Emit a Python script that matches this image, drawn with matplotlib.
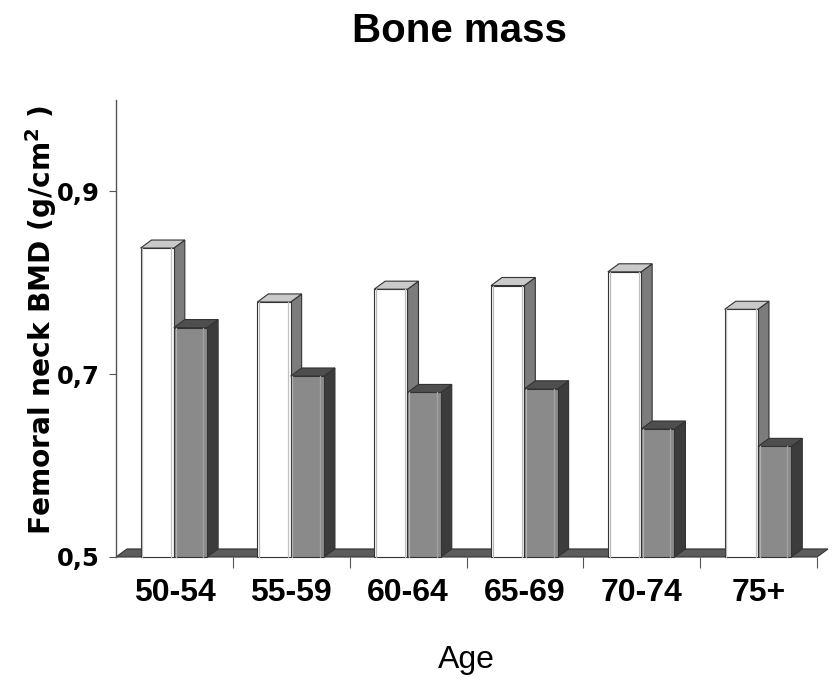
import matplotlib
matplotlib.use('Agg')
import matplotlib.pyplot as plt
from matplotlib.patches import Polygon

plt.rcParams['font.family'] = ['Liberation Sans', 'DejaVu Sans']
plt.rcParams['mathtext.fontset'] = 'dejavusans'

ages = ['50-54', '55-59', '60-64', '65-69', '70-74', '75+']
bmd_light = [0.838, 0.779, 0.793, 0.797, 0.812, 0.771]
bmd_dark = [0.751, 0.698, 0.680, 0.684, 0.640, 0.621]

base = 0.5
bar_w = 0.285
dx, dy = 0.094, 0.0088   # 3d depth offset in data units

fig = plt.figure(figsize=(8.35, 6.78), dpi=100)
ax = fig.add_axes([116 / 835, 121 / 678, 701 / 835, 457 / 678])
ax.set_xlim(0, 6)
ax.set_ylim(0.5, 1.0)

edge = '#333333'


def poly(pts, fc, z):
    p = Polygon(pts, closed=True, facecolor=fc, edgecolor=edge, linewidth=0.8,
                zorder=z, clip_on=False)
    ax.add_patch(p)


def bar3d(x0, v, front, top, side, z):
    x1 = x0 + bar_w
    poly([(x1, base), (x1 + dx, base + dy), (x1 + dx, v + dy), (x1, v)], side, z)
    poly([(x0, base), (x1, base), (x1, v), (x0, v)], front, z)
    poly([(x0, v), (x1, v), (x1 + dx, v + dy), (x0 + dx, v + dy)], top, z)
    # bevel lines on the front face
    if front == 'white':
        ax.plot([x0 + 0.015, x0 + 0.015], [base, v], color='#b8b8b8', lw=0.9, zorder=z, clip_on=False)
        ax.plot([x1 - 0.02, x1 - 0.02], [base, v], color='#c0c0c0', lw=0.9, zorder=z, clip_on=False)
    else:
        ax.plot([x0 + 0.015, x0 + 0.015], [base, v], color='#b0b0b0', lw=0.9, zorder=z, clip_on=False)
        ax.plot([x1 - 0.035, x1 - 0.035], [base, v], color='#a2a2a2', lw=0.9, zorder=z, clip_on=False)


# floor
poly([(0, base), (6, base), (6 + dx, base + dy), (dx, base + dy)], '#5c5c5c', 1)

for i in range(len(ages)):
    xw = i + 0.21
    xd = xw + bar_w
    bar3d(xw, bmd_light[i], 'white', '#cacaca', '#7c7c7c', 2 + i * 2)
    bar3d(xd, bmd_dark[i], '#8a8a8a', '#4e4e4e', '#3c3c3c', 3 + i * 2)

for s in ['top', 'right', 'bottom']:
    ax.spines[s].set_visible(False)
ax.spines['left'].set_color('#555555')
ax.spines['left'].set_linewidth(1)

ax.set_yticks([0.5, 0.7, 0.9])
ax.set_yticklabels(['0,5', '0,7', '0,9'], family='DejaVu Sans', fontweight='bold', fontsize=17.5)
ax.tick_params(axis='y', length=5, color='#555555', pad=7)

ax.set_xticks([1, 2, 3, 4, 5, 6])
ax.set_xticklabels([])
ax.tick_params(axis='x', which='major', length=8, color='#555555')
ax.set_xticks([i + 0.5 for i in range(6)], minor=True)
ax.set_xticklabels(ages, minor=True, fontweight='bold', fontsize=23)
ax.tick_params(axis='x', which='minor', length=0, pad=15)

fig.text(459 / 835, 1 - 42 / 678, 'Bone mass', ha='center', va='baseline',
         fontsize=29, fontweight='bold')
fig.text(466 / 835, 1 - 668 / 678, 'Age', ha='center', va='baseline', fontsize=23)
fig.text(51 / 835, 1 - 320 / 678, r'Femoral neck BMD (g/cm$^{\mathbf{2}}$ )',
         rotation=90, rotation_mode='anchor', ha='center', va='baseline',
         family='DejaVu Sans', fontweight='bold', fontsize=20.2)

fig.savefig('out.png', dpi=100)
